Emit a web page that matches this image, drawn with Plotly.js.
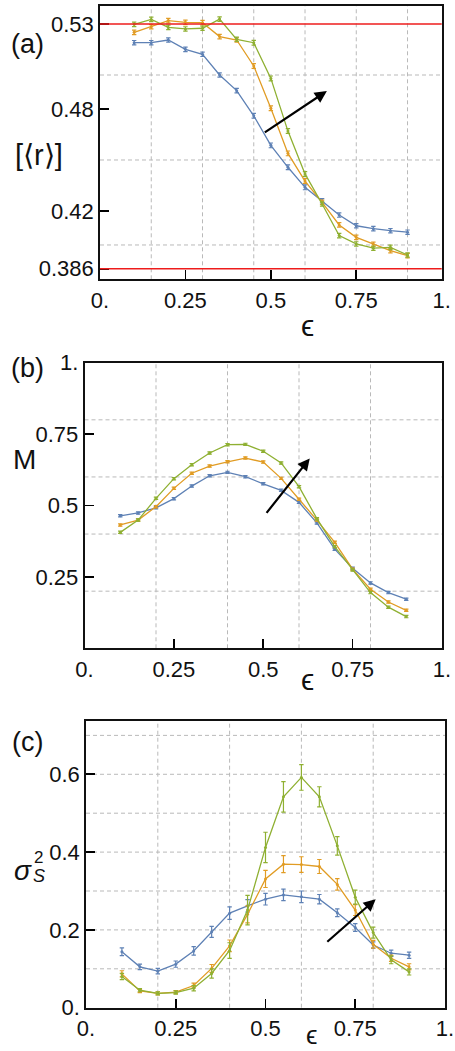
<!DOCTYPE html>
<html>
<head>
<meta charset="utf-8">
<script src="https://cdn.plot.ly/plotly-3.0.1.min.js"></script>
<style>
  html, body { margin: 0; padding: 0; background: #fff; }
  #chart { width: 455px; height: 1051px; }
</style>
</head>
<body>
<div id="chart"></div>
<script>
// ε values shared by all three panels
const eps = [0.10, 0.15, 0.20, 0.25, 0.30, 0.35, 0.40, 0.45, 0.50, 0.55, 0.60, 0.65, 0.70, 0.75, 0.80, 0.85, 0.90];

// (a) mean gap ratio [<r>]
const rBlue   = [0.519, 0.519, 0.5206, 0.5151, 0.5122, 0.500, 0.4908, 0.476, 0.4586, 0.4457, 0.4339, 0.426, 0.4176, 0.4113, 0.4096, 0.4084, 0.4075];
const rOrange = [0.5251, 0.5284, 0.532, 0.531, 0.5308, 0.5226, 0.5206, 0.5053, 0.4804, 0.4539, 0.4376, 0.4251, 0.4118, 0.4045, 0.4004, 0.3967, 0.3937];
const rGreen  = [0.5298, 0.5327, 0.528, 0.5271, 0.5275, 0.5329, 0.521, 0.519, 0.498, 0.467, 0.4418, 0.4241, 0.4055, 0.4006, 0.3981, 0.3986, 0.3941];
const rErrBlue   = [0.0013, 0.0013, 0.0013, 0.0013, 0.0013, 0.0013, 0.0013, 0.0014, 0.0014, 0.0014, 0.0014, 0.0013, 0.0013, 0.0013, 0.0013, 0.0013, 0.0013];
const rErrOrange = [0.0013, 0.0013, 0.0013, 0.0013, 0.0013, 0.0013, 0.0013, 0.0014, 0.0014, 0.0014, 0.0014, 0.0013, 0.0013, 0.0013, 0.0013, 0.0013, 0.0013];
const rErrGreen  = [0.0013, 0.0013, 0.0013, 0.0013, 0.0013, 0.0013, 0.0013, 0.0014, 0.0014, 0.0014, 0.0014, 0.0013, 0.0013, 0.0013, 0.0013, 0.0013, 0.0013];
const rRefLines = [0.53, 0.386];

// (b) M
const mBlue   = [0.464, 0.474, 0.492, 0.524, 0.568, 0.604, 0.616, 0.601, 0.576, 0.553, 0.511, 0.439, 0.347, 0.280, 0.229, 0.195, 0.172];
const mOrange = [0.432, 0.449, 0.496, 0.560, 0.613, 0.638, 0.653, 0.666, 0.652, 0.595, 0.522, 0.449, 0.371, 0.277, 0.207, 0.162, 0.133];
const mGreen  = [0.406, 0.449, 0.525, 0.594, 0.643, 0.684, 0.713, 0.714, 0.690, 0.649, 0.566, 0.454, 0.356, 0.274, 0.195, 0.144, 0.111];
const mErr    = [0.004, 0.004, 0.004, 0.004, 0.004, 0.004, 0.004, 0.004, 0.004, 0.004, 0.004, 0.004, 0.004, 0.004, 0.004, 0.004, 0.004];

// (c) σ_S^2
const sBlue   = [0.144, 0.105, 0.094, 0.112, 0.146, 0.195, 0.243, 0.262, 0.279, 0.290, 0.285, 0.279, 0.244, 0.206, 0.161, 0.140, 0.135];
const sOrange = [0.087, 0.043, 0.037, 0.040, 0.057, 0.101, 0.159, 0.240, 0.331, 0.369, 0.368, 0.363, 0.317, 0.251, 0.163, 0.127, 0.105];
const sGreen  = [0.080, 0.045, 0.037, 0.039, 0.050, 0.088, 0.147, 0.251, 0.412, 0.542, 0.592, 0.542, 0.416, 0.284, 0.193, 0.123, 0.092];
const sErrBlue   = [0.010, 0.007, 0.007, 0.008, 0.011, 0.014, 0.016, 0.016, 0.015, 0.015, 0.015, 0.012, 0.010, 0.010, 0.008, 0.008, 0.008];
const sErrOrange = [0.008, 0.004, 0.004, 0.004, 0.006, 0.010, 0.015, 0.022, 0.022, 0.022, 0.020, 0.018, 0.015, 0.014, 0.010, 0.008, 0.008];
const sErrGreen  = [0.008, 0.004, 0.004, 0.004, 0.007, 0.012, 0.020, 0.038, 0.039, 0.039, 0.033, 0.026, 0.024, 0.018, 0.014, 0.010, 0.008];

// tick labels
const xTickVals = [0, 0.25, 0.5, 0.75, 1];
const xTickText = ["0.", "0.25", "0.5", "0.75", "1."];
const aTickVals = [0.386, 0.42, 0.48, 0.53];
const aTickText = ["0.386", "0.42", "0.48", "0.53"];
const bTickVals = [0.25, 0.5, 0.75, 1];
const bTickText = ["0.25", "0.5", "0.75", "1."];
const cTickVals = [0, 0.2, 0.4, 0.6];
const cTickText = ["0.", "0.2", "0.4", "0.6"];

// dashed grid positions
const aGridX = [0.15, 0.30, 0.45, 0.60, 0.75, 0.90];
const aGridY = [0.40, 0.45, 0.50];
const bGridX = [0.2, 0.4, 0.6, 0.8];
const bGridY = [0.2, 0.4, 0.6, 0.8];
const cGridX = [0.2, 0.4, 0.6, 0.8];
const cGridY = [0.1, 0.2, 0.3, 0.4, 0.5, 0.6, 0.7];

// trend arrows: [tailX, tailY, headX, headY]
const aArrow = [0.478, 0.4657, 0.664, 0.4906];
const bArrow = [0.506, 0.469, 0.630, 0.665];
const cArrow = [0.668, 0.166, 0.807, 0.279];

const W = 455, H = 1051;
const FONT = "Liberation Sans, Arial, Helvetica, sans-serif";
const COLORS = ["#5E81B5", "#E19C24", "#8FB032"];

// pixel box -> paper domains
function dom(l, r, t, b) {
  return { x: [l / W, r / W], y: [1 - b / H, 1 - t / H] };
}
const boxA = dom(100, 441.7, 6, 279.3);
const boxB = dom(84.5, 442, 362.7, 648.3);
const boxC = dom(86, 445, 721, 1007.7);

function series(xa, ya, ys, errs, color) {
  return {
    type: "scatter", mode: "lines+markers",
    x: eps, y: ys, xaxis: xa, yaxis: ya,
    line: { color: color, width: 1.3 },
    marker: { color: color, size: 3 },
    error_y: { type: "data", array: errs, visible: true, color: color, thickness: 1.2, width: 2.2 },
    hoverinfo: "skip"
  };
}

const traces = [
  series("x", "y", rBlue, rErrBlue, COLORS[0]),
  series("x", "y", rOrange, rErrOrange, COLORS[1]),
  series("x", "y", rGreen, rErrGreen, COLORS[2]),
  series("x2", "y2", mBlue, mErr, COLORS[0]),
  series("x2", "y2", mOrange, mErr, COLORS[1]),
  series("x2", "y2", mGreen, mErr, COLORS[2]),
  series("x3", "y3", sBlue, sErrBlue, COLORS[0]),
  series("x3", "y3", sOrange, sErrOrange, COLORS[1]),
  series("x3", "y3", sGreen, sErrGreen, COLORS[2])
];

function axisBase(domain, range, vals, text, anchor) {
  return {
    domain: domain, range: range, anchor: anchor,
    tickmode: "array", tickvals: vals, ticktext: text,
    ticks: "inside", ticklen: 9, tickwidth: 1.6, tickcolor: "#000",
    showline: true, linecolor: "#111", linewidth: 1.8, mirror: true,
    showgrid: false, zeroline: false,
    tickfont: { family: FONT, size: 22, color: "#111" }
  };
}

// grid lines and reference lines
const shapes = [];
function grid(xr, yr, gx, gy) {
  const line = { color: "#b9b9b9", width: 1, dash: "4px,3px" };
  gx.forEach(v => shapes.push({ type: "line", layer: "below", xref: xr, yref: yr + " domain", x0: v, x1: v, y0: 0, y1: 1, line: line }));
  gy.forEach(v => shapes.push({ type: "line", layer: "below", xref: xr + " domain", yref: yr, x0: 0, x1: 1, y0: v, y1: v, line: line }));
}
grid("x", "y", aGridX, aGridY);
grid("x2", "y2", bGridX, bGridY);
grid("x3", "y3", cGridX, cGridY);
rRefLines.forEach(v => shapes.push({ type: "line", layer: "above", xref: "x domain", yref: "y", x0: 0, x1: 1, y0: v, y1: v, line: { color: "#ee1c1c", width: 1.6 } }));

function arrow(xr, yr, a) {
  return {
    xref: xr, yref: yr, axref: xr, ayref: yr,
    x: a[2], y: a[3], ax: a[0], ay: a[1],
    text: "", showarrow: true, arrowhead: 2, arrowsize: 1.1, arrowwidth: 2.2, arrowcolor: "#000"
  };
}

function label(px, py, text, size, extra) {
  return Object.assign({
    xref: "paper", yref: "paper", x: px / W, y: 1 - py / H,
    xanchor: "center", yanchor: "middle", showarrow: false,
    text: text, font: { family: FONT, size: size, color: "#111" }
  }, extra || {});
}

const annotations = [
  arrow("x", "y", aArrow),
  arrow("x2", "y2", bArrow),
  arrow("x3", "y3", cArrow),
  label(27, 44, "(a)", 27),
  label(27, 368, "(b)", 27),
  label(27, 742, "(c)", 27),
  label(39, 155, "[⟨r⟩]", 29),
  label(24, 459, "M", 28),
  label(23, 870, "<i>σ</i>", 28),
  label(38, 857, "2", 17),
  label(39, 876, "<i>S</i>", 18),
  label(307, 326, "ϵ", 30),
  label(307, 679, "ϵ", 30),
  label(312, 1035, "ϵ", 26)
];

const layout = {
  width: W, height: H,
  margin: { l: 0, r: 0, t: 0, b: 0, pad: 0 },
  paper_bgcolor: "#fff", plot_bgcolor: "#fff",
  showlegend: false,
  xaxis: axisBase(boxA.x, [0, 1], xTickVals, xTickText, "y"),
  yaxis: axisBase(boxA.y, [0.3798, 0.5406], aTickVals, aTickText, "x"),
  xaxis2: axisBase(boxB.x, [0, 1], xTickVals, xTickText, "y2"),
  yaxis2: axisBase(boxB.y, [0, 1], bTickVals, bTickText, "x2"),
  xaxis3: axisBase(boxC.x, [0, 1], xTickVals, xTickText, "y3"),
  yaxis3: axisBase(boxC.y, [0, 0.737], cTickVals, cTickText, "x3"),
  shapes: shapes,
  annotations: annotations
};

Plotly.newPlot("chart", traces, layout, { staticPlot: true, displayModeBar: false });
</script>
</body>
</html>
